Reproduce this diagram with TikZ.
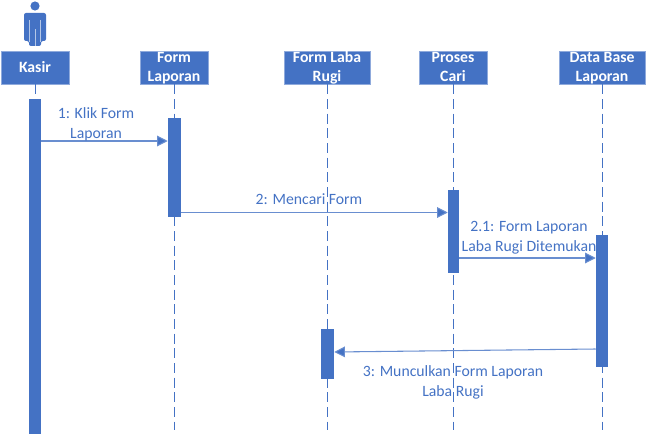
\documentclass[tikz,border=0pt]{standalone}
\usepackage{fontspec}
\setmainfont{Carlito}
\definecolor{umlblue}{HTML}{4472C4}
\definecolor{umledge}{HTML}{8FAADC}
\tikzset{
	headbox/.style={draw=umledge, fill=umlblue, text=white, font=\bfseries\fontsize{11.8}{14.25}\selectfont, align=center, minimum height=24.75pt, inner sep=0pt, line width=0.5pt},
	headtwo/.style={headbox, text height=22.85pt, text depth=1.9pt},
	barbox/.style={fill=umlblue, minimum width=9pt, inner sep=0pt},
	lifeline/.style={umlblue, line width=0.7pt, dash pattern=on 7.5pt off 3.5pt},
	msg/.style={umlblue!80!white, line width=0.8pt, -{Triangle[length=8pt,width=8pt,fill=umlblue]}},
	msglabel/.style={text=umlblue, font=\fontsize{11.8}{15}\selectfont, align=center, inner sep=0pt}
}
\usetikzlibrary{arrows.meta}
\begin{document}
\begin{tikzpicture}[x=0.75pt,y=-0.75pt]
	\useasboundingbox (0,0) rectangle (648,435);
	% actor
	\fill[umlblue] (35,6) circle (4.6);
	\fill[umlblue, rounded corners=1.5pt] (24,13) -- (46,13) -- (46,41) -- (41,41) -- (41,46) -- (29,46) -- (29,41) -- (24,41) -- cycle;
	\foreach \i in {29.5,40.5}
	{
		\draw[white!60!umlblue, line width=0.3pt] (\i,20) -- (\i,42);
	}
	\draw[white!60!umlblue, line width=0.3pt] (35,29) -- (35,46);
	% heads
	\node[headbox, minimum width=51pt] (kasir) at (35,67.5) {Kasir};
	\node[headtwo, minimum width=51pt] (formlap) at (174,67.5) {Form\\Laporan};
	\node[headtwo, minimum width=64.5pt] (formlaba) at (327,67.5) {Form Laba\\Rugi};
	\node[headtwo, minimum width=51pt] (proses) at (453,67.5) {Proses\\Cari};
	\node[headtwo, minimum width=64.5pt] (database) at (602,67.5) {Data Base\\Laporan};
	% bottom ends of the lifelines
	\foreach \name in {formlap,formlaba,proses,database}
	{
		\coordinate (\name end) at (\name.south |- 0,430);
		\draw[lifeline] (\name.south) -- (\name end);
	}
	\draw[lifeline] (kasir.south) -- ++(0,15);
	% activation bars
	\node[barbox, minimum height=251.25pt] (barkasir) at (35,266.5) {};
	\node[barbox, minimum height=74.25pt, minimum width=9.75pt] (barformlap) at (174.5,167.5) {};
	\node[barbox, minimum height=37.5pt, minimum width=9.75pt] (barformlaba) at (327.5,354) {};
	\node[barbox, minimum height=62.25pt, minimum width=8.25pt] (barproses) at (453.5,231.5) {};
	\node[barbox, minimum height=99pt] (bardatabase) at (602,301) {};
	% messages
	\coordinate (m1) at (0,141);
	\coordinate (m2) at (0,212.5);
	\coordinate (m3) at (0,258);
	\coordinate (m4a) at (0,349);
	\coordinate (m4b) at (0,352);
	\draw[msg] (barkasir.east |- m1) -- (barformlap.west |- m1);
	\draw[msg] (barformlap.east |- m2) -- (barproses.west |- m2);
	\draw[msg] (barproses.east |- m3) -- (bardatabase.west |- m3);
	\draw[msg] (bardatabase.west |- m4a) -- (barformlaba.east |- m4b);
	% labels
	\node[msglabel] (lbl1) at (96,124) {1: Klik Form\\Laporan};
	\node[msglabel] (lbl2) at (309,199) {2: Mencari Form};
	\node[msglabel] (lbl3) at (529,237.5) {2.1: Form Laporan\\Laba Rugi Ditemukan};
	\node[msglabel] (lbl4) at (453,382) {3: Munculkan Form Laporan\\Laba Rugi};
\end{tikzpicture}
\end{document}
